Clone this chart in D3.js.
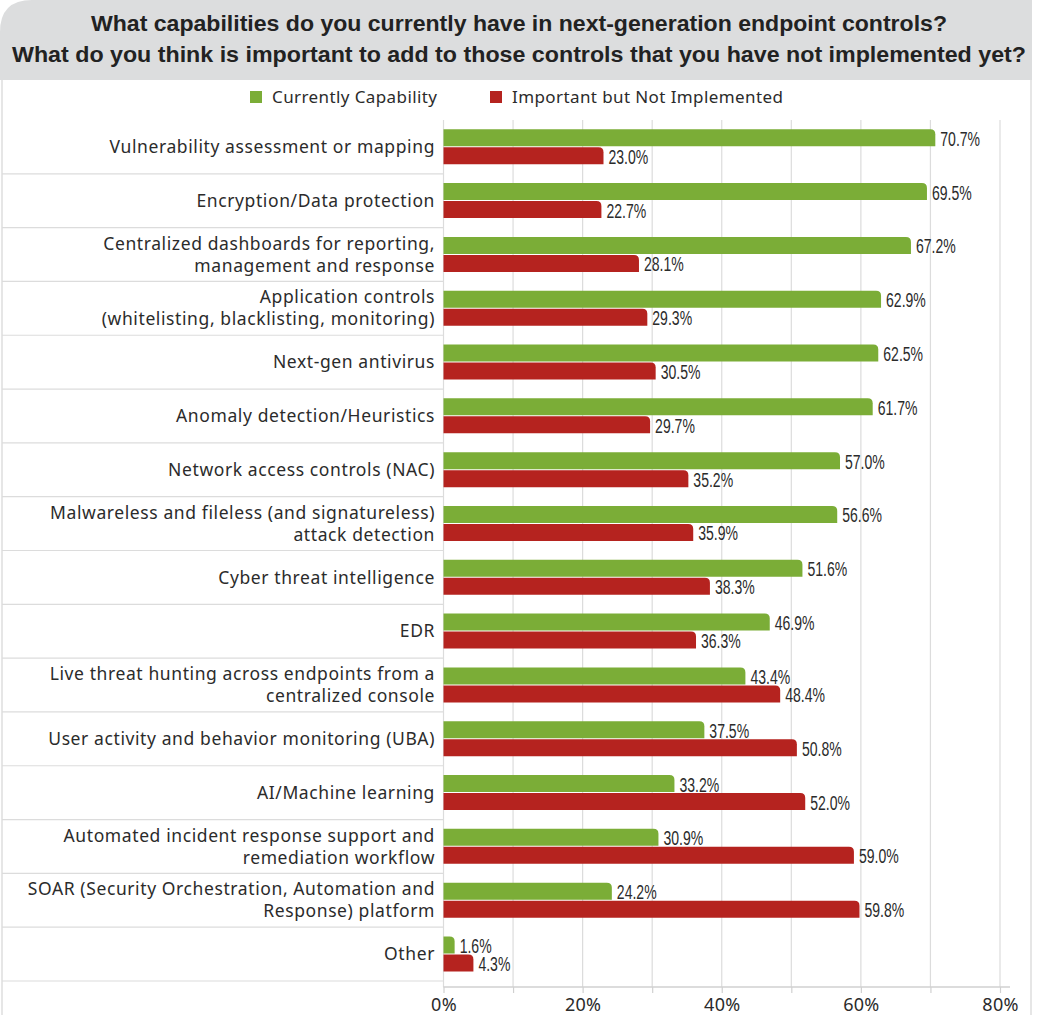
<!DOCTYPE html>
<html>
<head>
<meta charset="utf-8">
<script src="https://cdn.jsdelivr.net/npm/d3@7"></script>
<style>
  body { margin: 0; background: #fff; }
  svg { display: block; }
</style>
</head>
<body>
<div id="chart"></div>
<script>
// categories, top to bottom (lines split where the original wraps)
const categories = [
  ["Vulnerability assessment or mapping"],
  ["Encryption/Data protection"],
  ["Centralized dashboards for reporting,", "management and response"],
  ["Application controls", "(whitelisting, blacklisting, monitoring)"],
  ["Next-gen antivirus"],
  ["Anomaly detection/Heuristics"],
  ["Network access controls (NAC)"],
  ["Malwareless and fileless (and signatureless)", "attack detection"],
  ["Cyber threat intelligence"],
  ["EDR"],
  ["Live threat hunting across endpoints from a", "centralized console"],
  ["User activity and behavior monitoring (UBA)"],
  ["AI/Machine learning"],
  ["Automated incident response support and", "remediation workflow"],
  ["SOAR (Security Orchestration, Automation and", "Response) platform"],
  ["Other"]
];
const currentCapability = [70.7, 69.5, 67.2, 62.9, 62.5, 61.7, 57.0, 56.6, 51.6, 46.9, 43.4, 37.5, 33.2, 30.9, 24.2, 1.6];
const notImplemented   = [23.0, 22.7, 28.1, 29.3, 30.5, 29.7, 35.2, 35.9, 38.3, 36.3, 48.4, 50.8, 52.0, 59.0, 59.8, 4.3];
const seriesNames = ["Currently Capability", "Important but Not Implemented"];
const titleLines = [
  "What capabilities do you currently have in next-generation endpoint controls?",
  "What do you think is important to add to those controls that you have not implemented yet?"
];
const tickValues = [0, 10, 20, 30, 40, 50, 60, 70, 80];

const W = 1039, H = 1015;
const green = "#7bad37", red = "#b5231f";
const textColor = "#2b2b2b";
const labelFont = "'Noto Sans', sans-serif";
const narrowFont = "'Liberation Sans', Arial, sans-serif";

let svg = d3.select("#chart").append("svg")
  .attr("width", W)
  .attr("height", H);

// title band with rounded top-left corner
const bandW = 1032, bandH = 80, rad = 32;
svg.append("path")
  .attr("d", `M0,${bandH} L0,${rad} Q0,0 ${rad},0 L${bandW},0 L${bandW},${bandH} Z`)
  .style("fill", "#dcddde");

// frame lines
svg.append("line").attr("x1", 2).attr("x2", 2).attr("y1", bandH).attr("y2", H)
  .style("stroke", "#dedede").style("stroke-width", 1.5);
svg.append("line").attr("x1", 1031).attr("x2", 1031).attr("y1", bandH).attr("y2", H)
  .style("stroke", "#dedede").style("stroke-width", 1.5);

// title text, squeezed a little to the widths seen in the original
const titleWidths = [856, 1014];
svg.selectAll(".title")
  .data(titleLines)
  .enter().append("text")
  .attr("class", "title")
  .attr("x", 519)
  .attr("y", function (d, i) { return 31 + i * 31; })
  .attr("text-anchor", "middle")
  .attr("textLength", function (d, i) { return titleWidths[i]; })
  .attr("lengthAdjust", "spacingAndGlyphs")
  .style("font-family", narrowFont)
  .style("font-weight", "bold")
  .style("font-size", "22.5px")
  .style("fill", "#222")
  .text(function (d) { return d; });

// scales
const x = d3.scaleLinear().domain([0, 80]).range([443.5, 1000]);
const y = d3.scaleBand()
  .domain(d3.range(categories.length))
  .range([120, 981]);
const axisY = 987;

// grid lines
svg.append("g")
  .selectAll("line")
  .data(tickValues)
  .enter().append("line")
  .attr("x1", function (d) { return x(d); })
  .attr("x2", function (d) { return x(d); })
  .attr("y1", 120)
  .attr("y2", axisY)
  .style("stroke", "#dcdcdc")
  .style("stroke-width", 1.2);

// row separators on the label side
svg.append("g")
  .selectAll("line")
  .data(d3.range(categories.length))
  .enter().append("line")
  .attr("x1", 2)
  .attr("x2", x(0))
  .attr("y1", function (d) { return y(d) + y.bandwidth(); })
  .attr("y2", function (d) { return y(d) + y.bandwidth(); })
  .style("stroke", "#dcdcdc")
  .style("stroke-width", 1.2);

// category labels
let labelGroup = svg.append("g");
categories.forEach(function (lines, i) {
  const cy = y(i) + y.bandwidth() / 2;
  const lh = 22;
  lines.forEach(function (line, j) {
    labelGroup.append("text")
      .attr("x", 435)
      .attr("y", cy + (j - (lines.length - 1) / 2) * lh)
      .attr("dy", "0.35em")
      .attr("text-anchor", "end")
      .style("font-family", labelFont)
      .style("font-size", "17.5px")
      .style("letter-spacing", "0.6px")
      .style("fill", textColor)
      .text(line);
  });
});

// bar with rounded top-right corner
function barPath(x0, x1, y0, h) {
  const r = Math.min(5, x1 - x0);
  return `M${x0},${y0} L${x1 - r},${y0} Q${x1},${y0} ${x1},${y0 + r} L${x1},${y0 + h} L${x0},${y0 + h} Z`;
}

const barH = 17;
const series = [
  { values: currentCapability, color: green, offset: -17.6 },
  { values: notImplemented, color: red, offset: 0.4 }
];

let barGroup = svg.append("g");
series.forEach(function (s) {
  barGroup.selectAll(null)
    .data(s.values)
    .enter().append("path")
    .attr("d", function (d, i) {
      const cy = y(i) + y.bandwidth() / 2;
      return barPath(x(0), x(d), cy + s.offset, barH);
    })
    .style("fill", s.color);

  barGroup.selectAll(null)
    .data(s.values)
    .enter().append("text")
    .attr("transform", function (d, i) {
      const cy = y(i) + y.bandwidth() / 2;
      return `translate(${x(d) + 5},${cy + s.offset + barH - 0.5}) scale(0.72,1)`;
    })
    .style("font-family", narrowFont)
    .style("font-size", "19.5px")
    .style("fill", textColor)
    .text(function (d) { return d3.format(".1f")(d) + "%"; });
});

// x axis
let axis = svg.append("g")
  .attr("transform", `translate(0,${axisY})`)
  .call(d3.axisBottom(x)
    .tickValues(tickValues)
    .tickSize(6)
    .tickFormat(function (d) { return d % 20 === 0 ? d + "%" : ""; }));
axis.select(".domain").remove();
axis.selectAll(".tick line").style("stroke", "#d0d0d0").style("stroke-width", 1.2);
axis.selectAll(".tick text")
  .attr("y", 11)
  .style("font-family", labelFont)
  .style("font-size", "18px")
  .style("letter-spacing", "0.3px")
  .style("fill", textColor);
svg.append("line")
  .attr("x1", x(0)).attr("x2", 1010)
  .attr("y1", axisY).attr("y2", axisY)
  .style("stroke", "#d0d0d0").style("stroke-width", 1.5);

// legend
const legendItems = [
  { name: seriesNames[0], color: green, x: 250 },
  { name: seriesNames[1], color: red, x: 490 }
];
let legend = svg.append("g");
legend.selectAll("rect")
  .data(legendItems)
  .enter().append("rect")
  .attr("x", function (d) { return d.x; })
  .attr("y", 91)
  .attr("width", 12)
  .attr("height", 12)
  .style("fill", function (d) { return d.color; });
legend.selectAll("text")
  .data(legendItems)
  .enter().append("text")
  .attr("x", function (d) { return d.x + 22; })
  .attr("y", 97)
  .attr("dy", "0.35em")
  .style("font-family", labelFont)
  .style("font-size", "17px")
  .style("letter-spacing", "0.4px")
  .style("fill", textColor)
  .text(function (d) { return d.name; });
</script>
</body>
</html>
